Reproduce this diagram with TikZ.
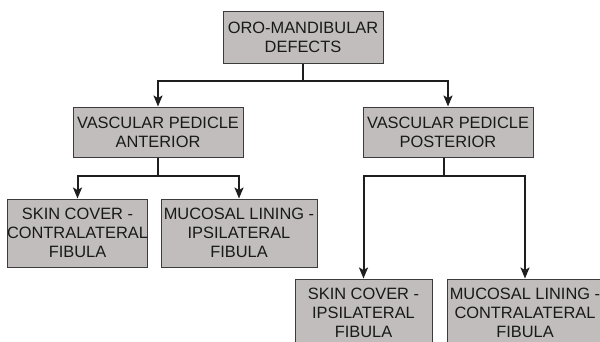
\documentclass[tikz,border=0pt]{standalone}
\usepackage{fontspec}
\setmainfont{Liberation Sans}
\usetikzlibrary{arrows.meta}
\definecolor{boxfill}{RGB}{193,189,189}
\definecolor{boxline}{RGB}{60,60,60}
\definecolor{connline}{RGB}{30,30,30}
\begin{document}
\begin{tikzpicture}[x=1pt,y=-1pt,
  box/.style={draw=boxline,line width=1pt,fill=boxfill,align=center,inner sep=0pt,
    font=\fontsize{16.4}{18.8}\selectfont,text=black!90},
  conn/.style={draw=connline,line width=2pt},
  arr/.style={conn,-{Stealth[length=11pt,width=9pt,inset=2.5pt]}}]
\useasboundingbox (0,0) rectangle (600,341);
\clip (0,0) rectangle (600,341);
\node[box,minimum width=160pt,minimum height=52pt] (top) at (303,37) {ORO-MANDIBULAR\\DEFECTS};
\node[box,minimum width=170pt,minimum height=50pt] (antL) at (158,132) {VASCULAR PEDICLE\\ANTERIOR};
\node[box,minimum width=170pt,minimum height=50pt] (antR) at (448,132) {VASCULAR PEDICLE\\POSTERIOR};
\node[box,minimum width=139pt,minimum height=68pt] (b1) at (77.5,233) {SKIN COVER -\\CONTRALATERAL\\FIBULA};
\node[box,minimum width=156pt,minimum height=68pt] (b2) at (239,233) {MUCOSAL LINING -\\IPSILATERAL\\FIBULA};
\node[box,minimum width=137pt,minimum height=68pt] (b3) at (363.5,313) {SKIN COVER -\\IPSILATERAL\\FIBULA};
\node[box,minimum width=156pt,minimum height=68pt] (b4) at (525,313) {MUCOSAL LINING -\\CONTRALATERAL\\FIBULA};
\coordinate (j1) at (303,81);
\coordinate (j2) at (158,176);
\coordinate (j3) at (444,176);
\draw[conn] (top.south) -- (j1);
\draw[arr] (j1) -| (antL.north);
\draw[arr] (j1) -| (antR.north);
\draw[conn] (antL.south) -- (j2);
\draw[arr] (j2) -| (b1.north);
\draw[arr] (j2) -| (b2.north);
\draw[conn] (j3 |- antR.south) -- (j3);
\draw[arr] (j3) -| (b3.north);
\draw[arr] (j3) -| (b4.north);
\end{tikzpicture}
\end{document}
